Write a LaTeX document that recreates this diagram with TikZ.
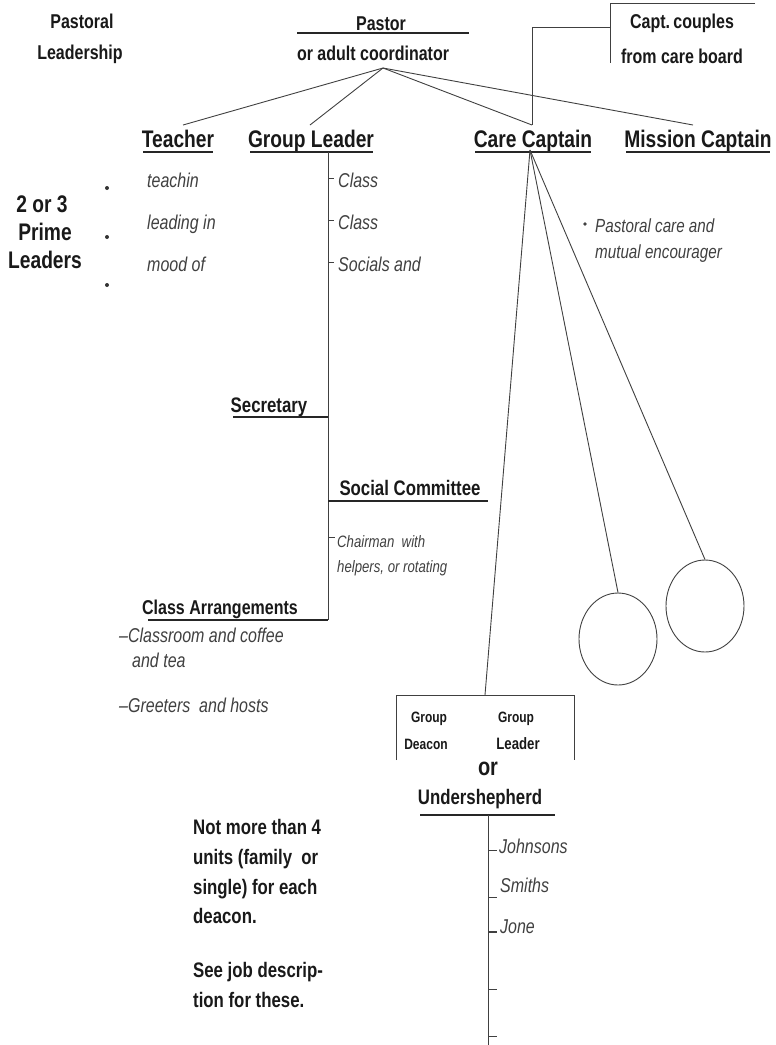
\documentclass[tikz,border=0pt]{standalone}
\usepackage{fontspec}
\setmainfont{Liberation Sans}[FakeStretch=0.8]
\usetikzlibrary{shapes.geometric}
\begin{document}
\begin{tikzpicture}[x=1pt, y=-1pt,
  lead/.style={font=\bfseries\fontsize{20}{22}\selectfont, inner sep=0pt, anchor=base, text=black!90},
  head/.style={font=\bfseries\fontsize{24}{26}\selectfont, inner sep=0pt, anchor=base, text=black!90},
  memo/.style={font=\bfseries\fontsize{21}{23}\selectfont, inner sep=0pt, anchor=base west, text=black!90},
  duty/.style={font=\itshape\fontsize{20}{22}\selectfont, inner sep=0pt, anchor=base west, text=black!75},
  minor/.style={font=\itshape\fontsize{16.5}{18}\selectfont, inner sep=0pt, anchor=base west, text=black!75},
  link/.style={draw=black!75, line width=0.9pt},
  uline/.style={draw=black!85, line width=1.6pt},
  cell/.style={draw=black!75, line width=0.9pt, ellipse, minimum width=78pt, minimum height=92pt, inner sep=0pt}
]
\useasboundingbox (0,0) rectangle (776,1045);


% Top left title
\path
(82,28) node [lead] (pastoral) {Pastoral}
(80,59) node [lead] (leadership) {Leadership};


% Pastor
\path
(381,30) node [lead] (pastor) {Pastor}
(373,60) node [lead] (adultcoord) {or adult coordinator};
\draw[uline] (297,33) -- (469,33);


% Capt. couples
\path
(682,28) node [lead] (captcouples) {Capt.\,couples}
(682,63) node [lead] (careboard) {from care board};
\draw[link] (755,3) -- (610,3) -- (610,63);
\coordinate (boardlink) at (610,27);
\coordinate (careup) at (532,125);
\draw[link] (boardlink) -| (careup);


% Four prime heads
\path
(178,147) node [head] (teacher) {Teacher}
(311,147) node [head] (groupleader) {Group Leader}
(533,147) node [head] (carecaptain) {Care Captain}
(698,147) node [head] (missioncaptain) {Mission Captain};
\draw[uline] (143,152) -- (213,152);
\draw[uline] (250,152) -- (373,152);
\draw[uline] (475,152) -- (591,152);
\draw[uline] (626,152) -- (770,152);

% Fan from pastor
\coordinate (pastorfan) at (383,68);
\coordinate (teacherup) at (183,125);
\coordinate (leaderup) at (310,125);
\coordinate (missionup) at (693,125);
\foreach \target in {teacherup, leaderup, careup, missionup}
  \draw[link] (pastorfan) -- (\target);


% Prime leaders
\path
(42,212) node [head] (twothree) {2 or 3}
(45,240) node [head] (prime) {Prime}
(45,268) node [head] (leaders) {Leaders};
\foreach \y in {188,237,285}
  \fill[black!80] (107,\y) circle (2);

% Teacher duties
\path
(147,187) node [duty] (teachin) {teachin}
(147,229) node [duty] (leadingin) {leading in}
(147,271) node [duty] (moodof) {mood of};


% Group leader branch
\coordinate (leaderdown) at (328,152);
\coordinate (leaderfoot) at (328,620);
\draw[link] (leaderdown) -- (leaderfoot);
\foreach \y in {178,220,262}
  \draw[link] (328,\y) -- (334,\y);
\path
(338,187) node [duty] (classone) {Class}
(338,229) node [duty] (classtwo) {Class}
(338,271) node [duty] (socials) {Socials and};

% Secretary
\path
(269,412) node [lead, font=\bfseries\fontsize{21}{23}\selectfont] (secretary) {Secretary};
\draw[uline, line width=1.2pt] (233,417) -- (328,417);

% Social committee
\path
(410,495) node [lead, font=\bfseries\fontsize{21}{23}\selectfont] (socialcom) {Social Committee};
\draw[uline, line width=1.2pt] (328,501) -- (488,501);
\draw[link] (328,537) -- (335,537);
\path
(337,547) node [minor] (chairman) {Chairman\ \ with}
(337,572) node [minor] (helpers) {helpers,\ or rotating};

% Class arrangements
\path
(220,614) node [lead] (classarr) {Class Arrangements};
\draw[uline, line width=1.2pt] (148,620) -- (leaderfoot);
\path
(119,642) node [duty] (classroom) {\textendash Classroom and coffee}
(132,667) node [duty] (andtea) {and tea}
(119,712) node [duty] (greeters) {\textendash Greeters\ \ and hosts};


% Mission captain note
\fill[black!75] (585,224) circle (1.8);
\path
(595,232) node [minor, font=\itshape\fontsize{19}{21}\selectfont] (pastoralcare) {Pastoral care and}
(595,258) node [minor, font=\itshape\fontsize{19}{21}\selectfont] (mutual) {mutual\ encourager};


% Care captain fan
\coordinate (carefan) at (530,150);
\node [cell] (cellone) at (618,639) {};
\node [cell] (celltwo) at (705,606) {};
\coordinate (deaconup) at (485,695);
\draw[link] (carefan) -- (deaconup);
\draw[link] (carefan) -- (cellone.north);
\draw[link] (carefan) -- (celltwo.north);

% Deacon box
\draw[link] (396,760) -- (396,695) -- (574,695) -- (574,760);
\path
(429,722) node [lead, font=\bfseries\fontsize{15}{17}\selectfont] (groupa) {Group}
(426,749) node [lead, font=\bfseries\fontsize{15}{17}\selectfont] (deacon) {Deacon}
(516,722) node [lead, font=\bfseries\fontsize{15}{17}\selectfont] (groupb) {Group}
(518,749) node [lead, font=\bfseries\fontsize{16.5}{18}\selectfont] (boxleader) {Leader};

% Undershepherd
\path
(488,775) node [lead, font=\bfseries\fontsize{25}{27}\selectfont] (orword) {or}
(480,804) node [lead, font=\bfseries\fontsize{21}{23}\selectfont] (undershepherd) {Undershepherd};
\draw[uline, line width=1.2pt] (420,815) -- (555,815);
\coordinate (flocktop) at (488,815);
\coordinate (flockfoot) at (488,1045);
\draw[link] (flocktop) -- (flockfoot);
\foreach \y in {850,897,989,1036}
  \draw[link] (488,\y) -- (497,\y);
\draw[link, line width=2pt] (488,932) -- (497,932);
\path
(499,853) node [duty] (johnsons) {Johnsons}
(500,892) node [duty] (smiths) {Smiths}
(500,933) node [duty] (jone) {Jone};


% Deacon note
\path
(193,834) node [memo] (notmore) {Not more than 4}
(193,864) node [memo] (units) {units (family\ \ or}
(193,894) node [memo] (single) {single) for each}
(193,923) node [memo] (deaconword) {deacon.}
(193,977) node [memo] (seejob) {See job descrip-}
(193,1007) node [memo] (tionfor) {tion for these.};


\end{tikzpicture}
\end{document}
